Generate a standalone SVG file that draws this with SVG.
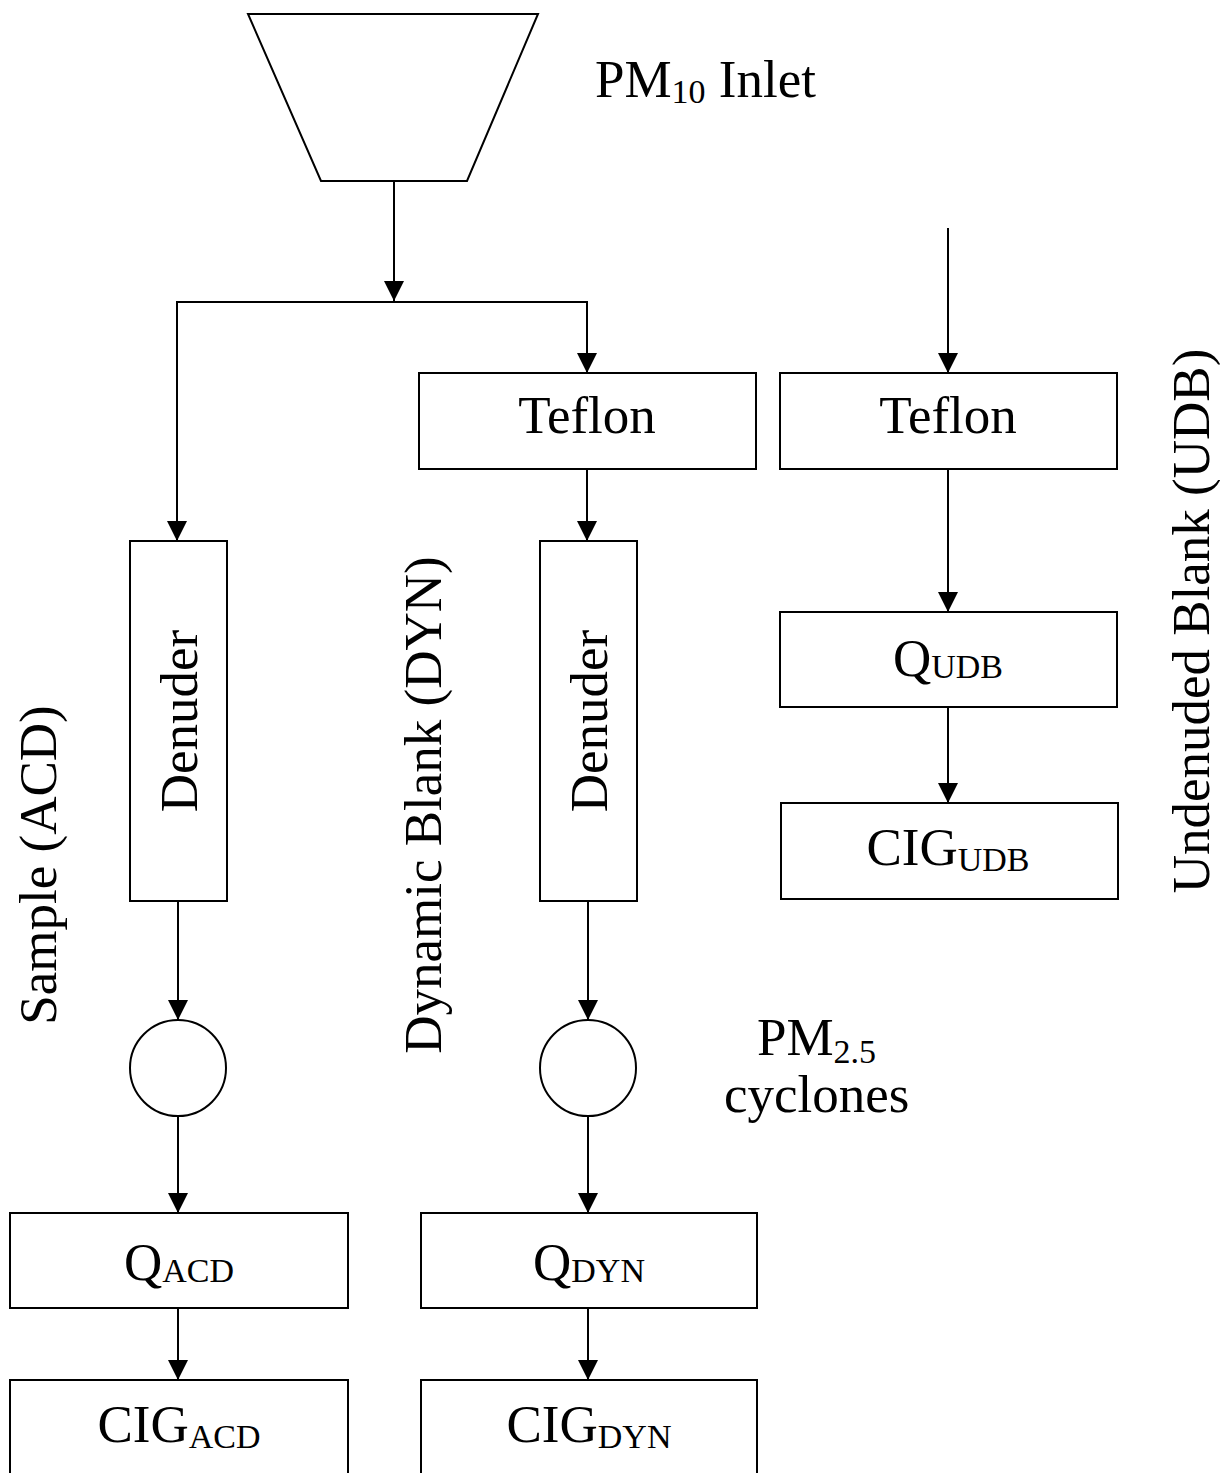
<svg xmlns="http://www.w3.org/2000/svg" width="1220" height="1473" viewBox="0 0 1220 1473">
<defs>
<style>
.box{fill:#fff;stroke:#000;stroke-width:2}
.ln{fill:none;stroke:#000;stroke-width:2}
.t{font-family:"Liberation Serif","Times New Roman",serif;font-size:53px;fill:#000}
.m{text-anchor:middle}
.sub{font-size:34px}
</style>
<marker id="ah" markerUnits="userSpaceOnUse" markerWidth="20" markerHeight="20" viewBox="0 0 20 20" refX="20" refY="10" orient="auto">
<path d="M0,0 L20,10 L0,20 Z" fill="#000"/>
</marker>
</defs>
<rect width="1220" height="1473" fill="#fff"/>
<g id="connectors">
<line class="ln" x1="394" y1="181" x2="394" y2="301" marker-end="url(#ah)"/>
<polyline class="ln" points="177,302 587,302 587,373" marker-end="url(#ah)"/>
<line class="ln" x1="177" y1="301" x2="177" y2="541" marker-end="url(#ah)"/>
<line class="ln" x1="587" y1="469" x2="587" y2="541" marker-end="url(#ah)"/>
<line class="ln" x1="178" y1="901" x2="178" y2="1020" marker-end="url(#ah)"/>
<line class="ln" x1="588" y1="901" x2="588" y2="1020" marker-end="url(#ah)"/>
<line class="ln" x1="178" y1="1117" x2="178" y2="1213" marker-end="url(#ah)"/>
<line class="ln" x1="588" y1="1117" x2="588" y2="1213" marker-end="url(#ah)"/>
<line class="ln" x1="178" y1="1308" x2="178" y2="1380" marker-end="url(#ah)"/>
<line class="ln" x1="588" y1="1308" x2="588" y2="1380" marker-end="url(#ah)"/>
<line class="ln" x1="948" y1="228" x2="948" y2="373" marker-end="url(#ah)"/>
<line class="ln" x1="948" y1="469" x2="948" y2="612" marker-end="url(#ah)"/>
<line class="ln" x1="948" y1="707" x2="948" y2="803" marker-end="url(#ah)"/>
</g>
<g id="inlet">
<polygon class="box" points="248,14 538,14 467,181 321,181"/>
<text class="t" x="595" y="97">PM<tspan class="sub" dy="6">10</tspan><tspan dy="-6"> Inlet</tspan></text>
</g>
<g id="teflon-dyn">
<rect class="box" x="419" y="373" width="337" height="96"/>
<text class="t m" x="587" y="433">Teflon</text>
</g>
<g id="teflon-udb">
<rect class="box" x="780" y="373" width="337" height="96"/>
<text class="t m" x="948" y="433">Teflon</text>
</g>
<g id="denuder-acd">
<rect class="box" x="130" y="541" width="97" height="360"/>
<text class="t m" transform="translate(197,721) rotate(-90)">Denuder</text>
</g>
<g id="denuder-dyn">
<rect class="box" x="540" y="541" width="97" height="360"/>
<text class="t m" transform="translate(607,721) rotate(-90)">Denuder</text>
</g>
<g id="cyclone-acd">
<circle class="box" cx="178" cy="1068" r="48"/>
</g>
<g id="cyclone-dyn">
<circle class="box" cx="588" cy="1068" r="48"/>
</g>
<g id="cyclone-label">
<text class="t" x="757" y="1055">PM<tspan class="sub" dy="8">2.5</tspan></text>
<text class="t" x="724" y="1112">cyclones</text>
</g>
<g id="q-acd">
<rect class="box" x="10" y="1213" width="338" height="95"/>
<text class="t m" x="179" y="1280">Q<tspan class="sub" dy="2">ACD</tspan></text>
</g>
<g id="cig-acd">
<rect class="box" x="10" y="1380" width="338" height="110"/>
<text class="t m" x="179" y="1442">CIG<tspan class="sub" dy="6">ACD</tspan></text>
</g>
<g id="q-dyn">
<rect class="box" x="421" y="1213" width="336" height="95"/>
<text class="t m" x="589" y="1280">Q<tspan class="sub" dy="2">DYN</tspan></text>
</g>
<g id="cig-dyn">
<rect class="box" x="421" y="1380" width="336" height="110"/>
<text class="t m" x="589" y="1442">CIG<tspan class="sub" dy="6">DYN</tspan></text>
</g>
<g id="q-udb">
<rect class="box" x="780" y="612" width="337" height="95"/>
<text class="t m" x="948" y="676">Q<tspan class="sub" dy="2">UDB</tspan></text>
</g>
<g id="cig-udb">
<rect class="box" x="781" y="803" width="337" height="96"/>
<text class="t m" x="948" y="865">CIG<tspan class="sub" dy="6">UDB</tspan></text>
</g>
<g id="labels">
<text class="t m" transform="translate(56,865) rotate(-90)">Sample (ACD)</text>
<text class="t m" transform="translate(441,805) rotate(-90)">Dynamic Blank (DYN)</text>
<text class="t m" transform="translate(1209,621) rotate(-90)">Undenuded Blank (UDB)</text>
</g>
</svg>
